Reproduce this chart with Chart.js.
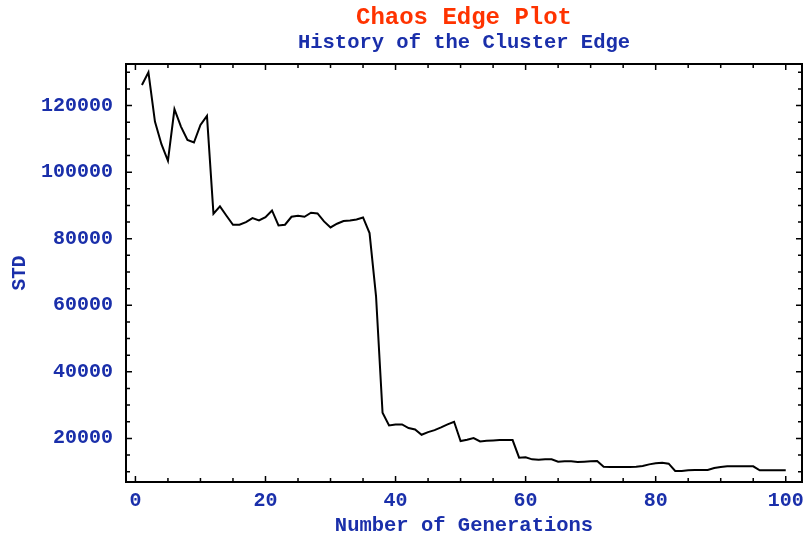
<!DOCTYPE html>
<html>
<head>
<meta charset="utf-8">
<script src="https://cdn.jsdelivr.net/npm/chart.js@4.4.1/dist/chart.umd.min.js"></script>
<style>
  html, body { margin: 0; padding: 0; background: #fff; }
  canvas { display: block; }
</style>
</head>
<body>
<canvas id="grafico" width="806" height="539"></canvas>
<script>
// dados
const generations = [1, 2, 3, 4, 5, 6, 7, 8, 9, 10,
    11, 12, 13, 14, 15, 16, 17, 18, 19, 20,
    21, 22, 23, 24, 25, 26, 27, 28, 29, 30,
    31, 32, 33, 34, 35, 36, 37, 38, 39, 40,
    41, 42, 43, 44, 45, 46, 47, 48, 49, 50,
    51, 52, 53, 54, 55, 56, 57, 58, 59, 60,
    61, 62, 63, 64, 65, 66, 67, 68, 69, 70,
    71, 72, 73, 74, 75, 76, 77, 78, 79, 80,
    81, 82, 83, 84, 85, 86, 87, 88, 89, 90,
    91, 92, 93, 94, 95, 96, 97, 98, 99, 100];

const stdValues = [126200, 130000, 115200, 108400, 103400, 118900, 113700, 109700, 108900, 114200,
    116900, 87500, 89700, 86900, 84200, 84200, 85000, 86200, 85500, 86500,
    88500, 84000, 84200, 86600, 86900, 86600, 87800, 87600, 85200, 83400,
    84500, 85300, 85500, 85800, 86400, 81700, 62700, 27700, 23900, 24200,
    24200, 23100, 22700, 21100, 21900, 22500, 23300, 24200, 25000, 19200,
    19600, 20100, 19100, 19300, 19400, 19500, 19500, 19500, 14200, 14300,
    13700, 13600, 13700, 13700, 13000, 13100, 13100, 12900, 13000, 13100,
    13200, 11500, 11400, 11400, 11400, 11400, 11500, 11700, 12200, 12500,
    12700, 12400, 10200, 10200, 10400, 10500, 10500, 10500, 11100, 11400,
    11600, 11600, 11600, 11600, 11600, 10400, 10400, 10400, 10400, 10400];

const xTickLabels = [0, 20, 40, 60, 80, 100];
const yTickLabels = [20000, 40000, 60000, 80000, 100000, 120000];

const tituloTexto = 'Chaos Edge Plot';
const subtituloTexto = 'History of the Cluster Edge';

const azul = '#1a2faa';
const fonte = 'Liberation Mono, Courier New, monospace';

// titulos centralizados em cima da area do grafico (nao do canvas todo)
const titulosPlugin = {
    id: 'titulos',
    afterDraw(chart) {
        const { ctx, chartArea: a } = chart;
        const cx = (a.left + a.right) / 2;
        ctx.save();
        ctx.textAlign = 'center';
        ctx.textBaseline = 'middle';
        ctx.fillStyle = '#ff3300';
        ctx.font = 'bold 24px ' + fonte;
        ctx.fillText(tituloTexto, cx, 18);
        ctx.fillStyle = azul;
        ctx.font = 'bold 20.5px ' + fonte;
        ctx.fillText(subtituloTexto, cx, 43);
        ctx.restore();
    }
};

// moldura e tracinhos pra dentro nos 4 lados
const molduraPlugin = {
    id: 'moldura',
    afterDraw(chart) {
        const { ctx, chartArea: a, scales } = chart;
        ctx.save();
        ctx.strokeStyle = '#000';
        ctx.lineWidth = 2;
        ctx.strokeRect(a.left, a.top, a.right - a.left, a.bottom - a.top);

        ctx.lineWidth = 1.5;
        ctx.beginPath();
        for (let v = 0; v <= 100; v += 5) {
            let px = scales.x.getPixelForValue(v);
            let len = (v % 20 === 0) ? 6 : 4;
            ctx.moveTo(px, a.bottom); ctx.lineTo(px, a.bottom - len);
            ctx.moveTo(px, a.top); ctx.lineTo(px, a.top + len);
        }
        for (let v = 10000; v <= 130000; v += 5000) {
            let py = scales.y.getPixelForValue(v);
            let len = (v % 20000 === 0) ? 6 : 4;
            ctx.moveTo(a.left, py); ctx.lineTo(a.left + len, py);
            ctx.moveTo(a.right, py); ctx.lineTo(a.right - len, py);
        }
        ctx.stroke();
        ctx.restore();
    }
};

new Chart(document.getElementById('grafico'), {
    type: 'line',
    data: {
        datasets: [{
            data: generations.map((g, i) => ({ x: g, y: stdValues[i] })),
            borderColor: '#000',
            borderWidth: 2,
            pointRadius: 0,
            tension: 0,
            fill: false
        }]
    },
    options: {
        responsive: false,
        animation: false,
        layout: { padding: { left: 0, right: 4, top: 64, bottom: 0 } },
        plugins: {
            legend: { display: false },
            tooltip: { enabled: false },
            title: { display: false }
        },
        scales: {
            x: {
                type: 'linear',
                min: -1.45,
                max: 102.5,
                afterBuildTicks: (s) => { s.ticks = xTickLabels.map(v => ({ value: v })) },
                afterFit: (s) => {
                    s.height = 57
                    s.paddingLeft = 0
                    s.paddingRight = 0
                },
                grid: { display: false, drawTicks: false },
                border: { display: false },
                ticks: {
                    color: azul,
                    font: { family: fonte, size: 20, weight: 'bold' },
                    padding: 7,
                    maxRotation: 0,
                    autoSkip: false,
                    callback: (v) => String(v)
                },
                title: {
                    display: true,
                    text: 'Number of Generations',
                    color: azul,
                    font: { family: fonte, size: 20.5, weight: 'bold' },
                    padding: { top: 0, bottom: 1 }
                }
            },
            y: {
                type: 'linear',
                min: 6900,
                max: 132500,
                afterBuildTicks: (s) => { s.ticks = yTickLabels.map(v => ({ value: v })) },
                afterFit: (s) => {
                    s.width = 126
                    s.paddingTop = 0
                    s.paddingBottom = 0
                },
                grid: { display: false, drawTicks: false },
                border: { display: false },
                ticks: {
                    color: azul,
                    font: { family: fonte, size: 20, weight: 'bold' },
                    padding: 13,
                    autoSkip: false,
                    callback: (v) => String(v)
                },
                title: {
                    display: true,
                    text: 'STD',
                    color: azul,
                    font: { family: fonte, size: 19.5, weight: 'bold' },
                    padding: { top: 8, bottom: 0 }
                }
            }
        }
    },
    plugins: [molduraPlugin, titulosPlugin]
});
</script>
</body>
</html>
